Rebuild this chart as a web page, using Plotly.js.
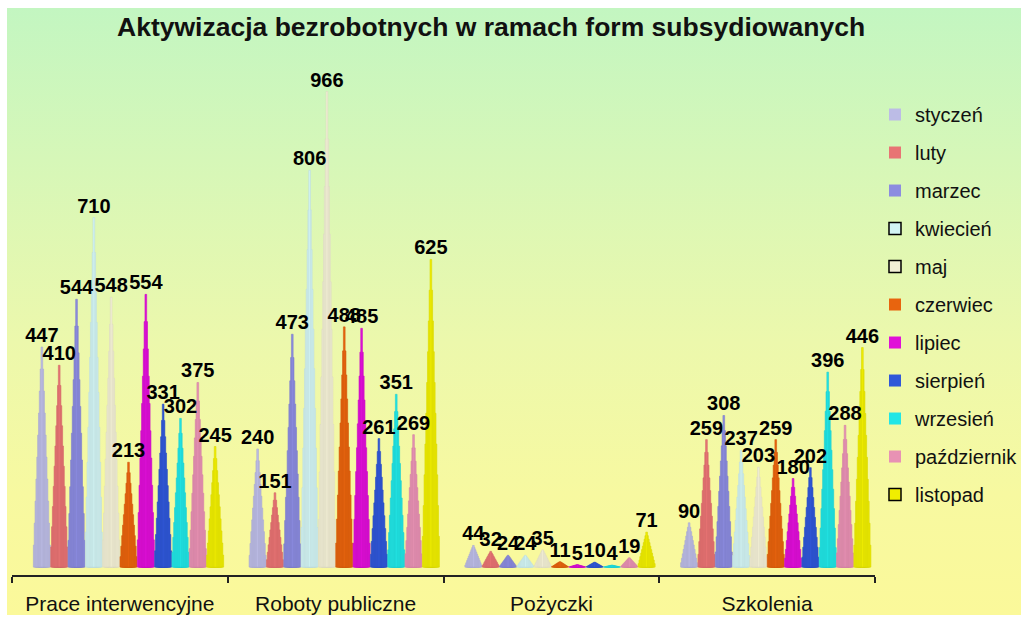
<!DOCTYPE html>
<html>
<head>
<meta charset="utf-8">
<script src="https://cdn.plot.ly/plotly-3.0.1.min.js"></script>
<style>
  html, body { margin: 0; padding: 0; background: #ffffff; }
  #bg { position: absolute; left: 7px; top: 8px; width: 1014px; height: 607px;
        background: linear-gradient(to bottom, #c3f6c1 0%, #d6f7b8 25%, #ecf8ac 55%, #f7f9a0 80%, #fbf99a 100%); }
  #chart { position: absolute; left: 0; top: 0; width: 1021px; height: 617px; }
</style>
</head>
<body>
<div id="bg"></div>
<div id="chart"></div>
<script>
// ---- data ----
const categories = ['Prace interwencyjne', 'Roboty publiczne', 'Pożyczki', 'Szkolenia'];
const months = ['styczeń', 'luty', 'marzec', 'kwiecień', 'maj', 'czerwiec', 'lipiec', 'sierpień', 'wrzesień', 'październik', 'listopad'];
const styczen     = [447, 240, 44, 90];
const luty        = [410, 151, 32, 259];
const marzec      = [544, 473, 24, 308];
const kwiecien    = [710, 806, 24, 237];
const maj         = [548, 966, 35, 203];
const czerwiec    = [213, 488, 11, 259];
const lipiec      = [554, 485, 5, 180];
const sierpien    = [331, 261, 10, 202];
const wrzesien    = [302, 351, 4, 396];
const pazdziernik = [375, 269, 19, 288];
const listopad    = [245, 625, 71, 446];
const seriesValues = [styczen, luty, marzec, kwiecien, maj, czerwiec, lipiec, sierpien, wrzesien, pazdziernik, listopad];

// ---- style ----
const colors = ['#bcbce6', '#e87474', '#8c8ce0', '#d2f4f4', '#f3f0d6', '#e8640e',
                '#e010d8', '#3058d8', '#22e6e6', '#e892b4', '#f0ee00'];
const legendOutline = [false, false, false, true, true, false, false, false, false, false, true];
const FONT = 'Liberation Sans, Arial, sans-serif';
const STEPS = 10;          // stepped pyramid levels
const SLOT = 0.0803;       // spacing between series within a category
const SHIFT = 0.04;        // depth shift of the group
const BASEW = 0.079;       // base width of pyramid

function shade(hex, f) {
  const n = parseInt(hex.slice(1), 16);
  const r = Math.round(((n >> 16) & 255) * f), g = Math.round(((n >> 8) & 255) * f), b = Math.round((n & 255) * f);
  return 'rgb(' + r + ',' + g + ',' + b + ')';
}

const traces = [];
seriesValues.forEach((vals, s) => {
  const xs = categories.map((c, i) => i + SHIFT + (s - 5) * SLOT);
  for (let j = 0; j < STEPS; j++) {
    traces.push({
      type: 'bar',
      x: xs,
      y: vals.map(v => v * (j + 1) / STEPS),
      width: BASEW * (STEPS - j) / STEPS,
      marker: { color: colors[s], line: { color: shade(colors[s], 0.9), width: 0.6 } },
      showlegend: false,
      hoverinfo: 'skip'
    });
  }
});
// value labels
seriesValues.forEach((vals, s) => {
  traces.push({
    type: 'scatter',
    mode: 'text',
    x: categories.map((c, i) => i + SHIFT + (s - 5) * SLOT),
    y: vals,
    text: vals.map(String),
    textposition: 'top center',
    textfont: { family: FONT, size: 20, color: '#000000', weight: 'bold' },
    cliponaxis: false,
    showlegend: false,
    hoverinfo: 'skip'
  });
});
// legend entries
months.forEach((m, s) => {
  traces.push({
    type: 'scatter',
    mode: 'markers',
    x: [null], y: [null],
    name: m,
    legendgroup: 'g' + s,
    marker: { symbol: 'square', size: 12, color: colors[s],
              line: { color: '#000000', width: legendOutline[s] ? 1.5 : 0 } }
  });
});

const layout = {
  width: 1021, height: 617,
  paper_bgcolor: 'rgba(0,0,0,0)',
  plot_bgcolor: 'rgba(0,0,0,0)',
  margin: { l: 12, r: 137, t: 60, b: 42 },
  barmode: 'overlay',
  font: { family: FONT, color: '#111111' },
  title: {
    text: 'Aktywizacja bezrobotnych w ramach form subsydiowanych',
    font: { family: FONT, size: 26.5, color: '#111111', weight: 'bold' },
    x: 0.481, xanchor: 'center', xref: 'container',
    y: 0.956, yanchor: 'middle', yref: 'container'
  },
  xaxis: {
    range: [-0.5, 3.5],
    tickmode: 'array',
    tickvals: categories.map((c, i) => i),
    ticktext: categories,
    ticks: '',
    ticklabelstandoff: 9,
    tickfont: { family: FONT, size: 21, color: '#111111' },
    showline: true, linecolor: '#222222', linewidth: 2,
    showgrid: false, zeroline: false,
    minor: { tickmode: 'array', tickvals: [-0.5, 0.5, 1.5, 2.5, 3.5], ticks: 'outside',
             ticklen: 6, tickwidth: 2, tickcolor: '#222222', showgrid: false }
  },
  yaxis: {
    range: [-16, 1030],
    visible: false, showgrid: false, zeroline: false
  },
  legend: {
    xref: 'container', yref: 'container',
    x: 0.857, xanchor: 'left',
    y: 0.846, yanchor: 'top',
    maxheight: 560,
    font: { family: FONT, size: 20, color: '#111111' },
    tracegroupgap: 9,
    bgcolor: 'rgba(0,0,0,0)',
    itemclick: false
  },
  showlegend: true
};

Plotly.newPlot('chart', traces, layout, { displayModeBar: false, staticPlot: true });
</script>
</body>
</html>
